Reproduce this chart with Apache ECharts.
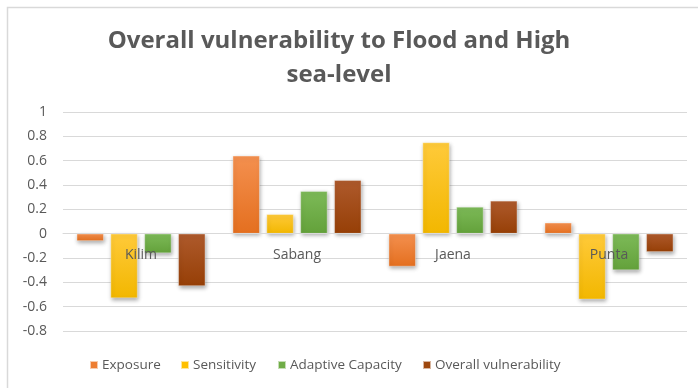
<!DOCTYPE html>
<html>
<head>
<meta charset="utf-8">
<script src="https://cdn.jsdelivr.net/npm/echarts@6/dist/echarts.min.js"></script>
<style>
html, body { margin: 0; padding: 0; background: #ffffff; }
#chart { width: 698px; height: 388px; }
</style>
</head>
<body>
<div id="chart"></div>
<script>
// Sites and vulnerability components
const categories = ['Kilim', 'Sabang', 'Jaena', 'Punta'];
const exposure = [-0.06, 0.64, -0.27, 0.09];
const sensitivity = [-0.53, 0.16, 0.75, -0.54];
const adaptiveCapacity = [-0.16, 0.35, 0.22, -0.30];
const overallVulnerability = [-0.43, 0.44, 0.27, -0.15];
const yTicks = [-0.8, -0.6, -0.4, -0.2, 0, 0.2, 0.4, 0.6, 0.8, 1];
const yMin = -0.8;
const yMax = 1;

const seriesNames = ['Exposure', 'Sensitivity', 'Adaptive Capacity', 'Overall vulnerability'];
const seriesData = [exposure, sensitivity, adaptiveCapacity, overallVulnerability];
const baseColors = ['#ED7D31', '#FFC000', '#70AD47', '#9E480E'];
const topColors = ['#F4904F', '#FFCA3A', '#7DBA58', '#AE5A2C'];
const bottomColors = ['#E46F1F', '#F2B700', '#63A13A', '#963F06'];
const legendLefts = [89, 180, 277, 422];

const textColor = '#595959';
const fontFamily = '"Open Sans", sans-serif';

// plot box
const W = 698, H = 388;
const gridLeft = 63, gridRight = 11, gridTop = 112, gridBottom = 57;
const plotH = H - gridTop - gridBottom;
// distance from the bottom of the plot up to the zero line
const zeroLift = plotH * (0 - yMin) / (yMax - yMin);

const chart = echarts.init(document.getElementById('chart'), null, { renderer: 'canvas' });

const series = seriesNames.map((name, i) => ({
  name: name,
  type: 'bar',
  data: seriesData[i],
  barGap: '25%',
  barCategoryGap: '17.5%',
  itemStyle: {
    color: new echarts.graphic.LinearGradient(0, 0, 0, 1, [
      { offset: 0, color: topColors[i] },
      { offset: 1, color: bottomColors[i] }
    ]),
    borderColor: 'rgba(255,255,255,0.6)',
    borderWidth: 0.6,
    shadowColor: 'rgba(0,0,0,0.35)',
    shadowBlur: 4,
    shadowOffsetX: 1,
    shadowOffsetY: 2
  },
  emphasis: { disabled: true }
}));

const legends = seriesNames.map((n, i) => ({
  left: legendLefts[i],
  top: 358,
  padding: 0,
  itemWidth: 8,
  itemHeight: 8,
  icon: 'rect',
  selectedMode: false,
  data: [{ name: n, itemStyle: { color: baseColors[i] } }],
  textStyle: { color: textColor, fontSize: 13.5, fontFamily: fontFamily, padding: [0, 0, 0, -1] }
}));

const option = {
  animation: false,
  backgroundColor: '#ffffff',
  legend: legends,
  grid: {
    left: gridLeft,
    right: gridRight,
    top: gridTop,
    bottom: gridBottom,
    containLabel: false
  },
  xAxis: {
    type: 'category',
    data: categories,
    z: 10,
    offset: -zeroLift,
    axisLine: { onZero: false, lineStyle: { color: '#d9d9d9', width: 1 } },
    axisTick: { show: false },
    axisLabel: { color: textColor, fontSize: 14, fontFamily: fontFamily, margin: 14 }
  },
  yAxis: {
    type: 'value',
    min: yMin,
    max: yMax,
    interval: 0.2,
    axisLine: { show: false },
    axisTick: { show: false },
    splitLine: { lineStyle: { color: '#d9d9d9', width: 1 } },
    axisLabel: {
      color: textColor,
      fontSize: 14,
      fontFamily: fontFamily,
      margin: 16,
      formatter: function (v) {
        const r = Math.round(v * 10) / 10;
        const match = yTicks.find(t => Math.abs(t - r) < 1e-9);
        return match === undefined ? '' : String(match);
      }
    }
  },
  graphic: [{
    type: 'rect',
    shape: { x: 7.5, y: 7.5, width: 700, height: 400 },
    style: { fill: 'none', stroke: '#d9d9d9', lineWidth: 1.5 },
    silent: true,
    z: 0
  }, {
    // chart title, two lines
    type: 'text',
    x: 339,
    y: 24,
    silent: true,
    z: 5,
    style: {
      text: 'Overall vulnerability to Flood and High\nsea-level',
      align: 'center',
      verticalAlign: 'top',
      fill: textColor,
      font: 'bold 24px "Open Sans", sans-serif',
      lineHeight: 34
    }
  }],
  series: series
};

chart.setOption(option);
</script>
</body>
</html>
